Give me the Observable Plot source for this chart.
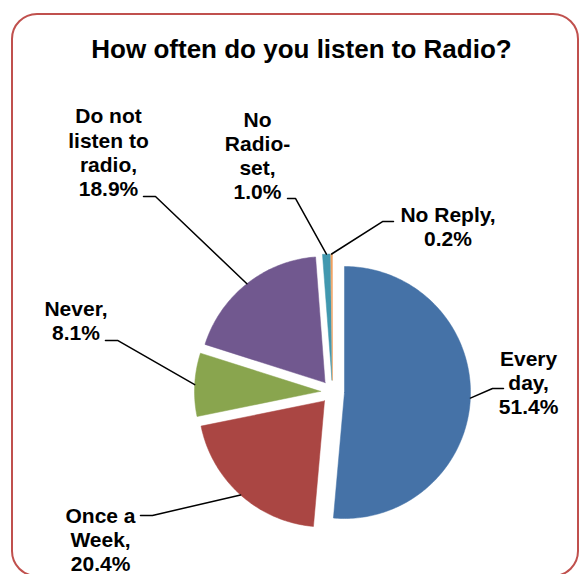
<!DOCTYPE html>
<html>
<head>
<meta charset="utf-8">
<script src="https://cdn.jsdelivr.net/npm/d3@7"></script>
<script src="https://cdn.jsdelivr.net/npm/@observablehq/plot@0.6"></script>
<style>
  body { margin: 0; background: #fff; font-family: "Liberation Sans", Arial, sans-serif; }
  #wrap { position: relative; width: 583px; height: 574px; overflow: hidden; background: #fff; }
  #frame { position: absolute; left: 11px; top: 13px; width: 564px; height: 560px;
           border: 2px solid #C0504D; border-radius: 26px; }
  #chart { position: absolute; left: 0; top: 0; }
  #title { position: absolute; left: 0; top: 34px; width: 603px; text-align: center;
           font-weight: bold; font-size: 26px; line-height: 30px; color: #000; }
</style>
</head>
<body>
<div id="wrap">
  <div id="frame"></div>
  <div id="chart"></div>
  <div id="title">How often do you listen to Radio?</div>
</div>
<script>
// ---- data ----
const categories = ["Every day", "Once a Week", "Never", "Do not listen to radio", "No Radio-set", "No Reply"];
const values = [51.4, 20.4, 8.1, 18.9, 1.0, 0.2];
const colors = ["#4572A7", "#AA4643", "#89A54E", "#71588F", "#4198AF", "#F0A060"];
const labelNames = ["Every\nday,", "Once a\nWeek,", "Never,", "Do not\nlisten to\nradio,", "No\nRadio-\nset,", "No Reply,"];

// ---- layout (in pie-radius units, relative to pie centre, y up) ----
const labelPos = [[1.556, 0.079], [-1.841, -1.168], [-2.036, 0.571], [-1.778, 1.905], [-0.595, 1.877], [0.917, 1.317]];
const leaderElbow = [[1.270, 0.028], [-1.429, -0.980], [-1.706, 0.409], [-1.405, 1.552], [-0.294, 1.536], [0.397, 1.353]];
const leaderEndX = [1.357, -1.524, -1.802, -1.500, -0.357, 0.484];

const W = 583, H = 574, R = 126, cx = 332, cy = 391.5, explode = 12 / 126;

const arcs = d3.pie().sort(null).value(d => d)(values);

// slice polygons
const slicePts = [];
arcs.forEach((a, i) => {
  const mid = (a.startAngle + a.endAngle) / 2;
  const ox = explode * Math.sin(mid), oy = explode * Math.cos(mid);
  const cat = categories[i];
  slicePts.push({cat, x: ox, y: oy});
  const n = Math.max(2, Math.ceil((a.endAngle - a.startAngle) * 180 / Math.PI));
  for (let k = 0; k <= n; k++) {
    const t = a.startAngle + (a.endAngle - a.startAngle) * k / n;
    slicePts.push({cat, x: ox + Math.sin(t), y: oy + Math.cos(t)});
  }
  slicePts.push({cat, x: ox, y: oy});
});

// leader lines
const leaderPts = [];
arcs.forEach((a, i) => {
  const mid = (a.startAngle + a.endAngle) / 2;
  const cat = categories[i];
  leaderPts.push({cat, x: (1 + explode) * Math.sin(mid), y: (1 + explode) * Math.cos(mid)});
  leaderPts.push({cat, x: leaderElbow[i][0], y: leaderElbow[i][1]});
  leaderPts.push({cat, x: leaderEndX[i], y: leaderElbow[i][1]});
});

const labels = categories.map((c, i) => ({
  cat: c,
  x: labelPos[i][0],
  y: labelPos[i][1],
  text: labelNames[i] + "\n" + values[i].toFixed(1) + "%"
}));

const chart = Plot.plot({
  width: W,
  height: H,
  margin: 0,
  style: {background: "transparent", fontFamily: "'Liberation Sans', Arial, sans-serif", overflow: "visible"},
  x: {axis: null, domain: [-cx / R, (W - cx) / R], range: [0, W]},
  y: {axis: null, domain: [(cy - H) / R, cy / R], range: [H, 0]},
  color: {domain: categories, range: colors, legend: false},
  marks: [
    Plot.line(slicePts, {x: "x", y: "y", z: "cat", fill: "cat", stroke: "cat", strokeWidth: 0.5, curve: "linear-closed"}),
    Plot.line(leaderPts, {x: "x", y: "y", z: "cat", stroke: "#000", strokeWidth: 1.5}),
    Plot.text(labels, {x: "x", y: "y", text: "text", fontSize: 21, fontWeight: "bold",
      lineHeight: 1.15, lineAnchor: "middle", textAnchor: "middle", fill: "#000"})
  ]
});
document.getElementById("chart").appendChild(chart);
</script>
</body>
</html>
